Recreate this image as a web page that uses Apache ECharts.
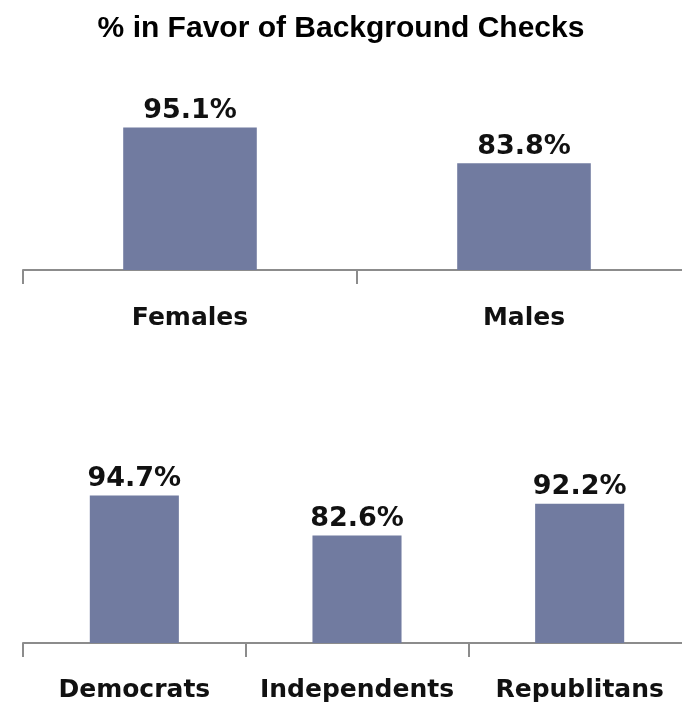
<!DOCTYPE html>
<html>
<head>
<meta charset="utf-8">
<script src="https://cdn.jsdelivr.net/npm/echarts@6/dist/echarts.min.js"></script>
<style>
  html, body { margin: 0; padding: 0; background: #fff; }
  #chart { width: 682px; height: 703px; }
</style>
</head>
<body>
<div id="chart"></div>
<script>
// gender split
const genderCats = ['Females', 'Males'];
const genderVals = [95.1, 83.8];
// party split
const partyCats = ['Democrats', 'Independents', 'Republitans'];
const partyVals = [94.7, 82.6, 92.2];

const barColor = '#717ba0';
const labelFont = '"DejaVu Sans", sans-serif';

const chart = echarts.init(document.getElementById('chart'));

const xAxisStyle = (cats, idx, margin) => ({
  type: 'category',
  gridIndex: idx,
  data: cats,
  axisLine: { lineStyle: { color: '#8c8c8c', width: 2 } },
  axisTick: { show: true, length: 14, lineStyle: { color: '#8c8c8c', width: 2 } },
  axisLabel: {
    margin: margin,
    color: '#111',
    fontSize: 25,
    fontWeight: 'bold',
    fontFamily: labelFont,
    interval: 0
  }
});

const yAxisStyle = idx => ({
  type: 'value', gridIndex: idx, min: 50, max: 100, show: false, splitLine: { show: false }
});

const barSeries = (vals, idx) => ({
  type: 'bar',
  xAxisIndex: idx,
  yAxisIndex: idx,
  data: vals,
  barWidth: '40%',
  itemStyle: { color: barColor },
  label: {
    show: true,
    position: 'top',
    distance: 3,
    color: '#111',
    fontSize: 27,
    fontWeight: 'bold',
    fontFamily: labelFont,
    formatter: p => p.value.toFixed(1) + '%'
  }
});

chart.setOption({
  animation: false,
  title: {
    text: '% in Favor of Background Checks',
    left: 'center',
    top: 9,
    textStyle: { fontFamily: '"Liberation Sans", Arial, sans-serif', fontSize: 30, fontWeight: 'bold', color: '#000' }
  },
  grid: [
    { left: 23, right: -9, top: 112, bottom: 433, outerBoundsMode: 'none' },
    { left: 23, right: -9, top: 478, bottom: 60, outerBoundsMode: 'none' }
  ],
  xAxis: [xAxisStyle(genderCats, 0, 36), xAxisStyle(partyCats, 1, 35)],
  yAxis: [yAxisStyle(0), yAxisStyle(1)],
  series: [barSeries(genderVals, 0), barSeries(partyVals, 1)]
});
</script>
</body>
</html>
